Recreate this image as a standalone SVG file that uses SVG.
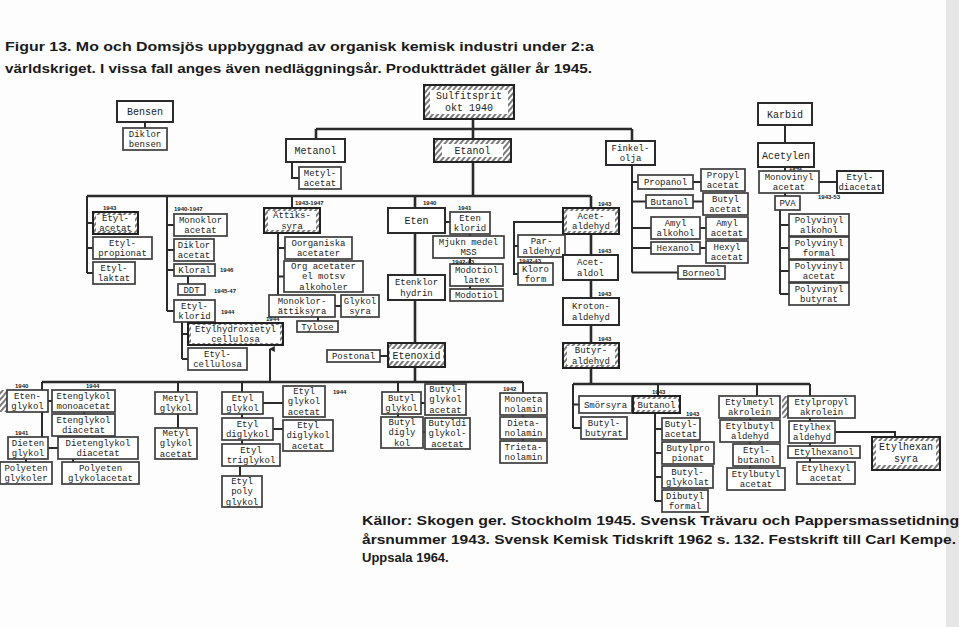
<svg xmlns="http://www.w3.org/2000/svg" width="959" height="627" viewBox="0 0 959 627">
<defs>
<pattern id="hatch" patternUnits="userSpaceOnUse" width="4" height="4" patternTransform="rotate(40)"><rect width="4" height="4" fill="#fff"/><line x1="1" y1="0" x2="1" y2="4" stroke="#333" stroke-width="1.3"/></pattern>
<marker id="arr" viewBox="0 0 10 10" refX="5" refY="2" markerWidth="6" markerHeight="6" orient="auto-start-reverse" markerUnits="userSpaceOnUse"><path d="M0,10 L5,0 L10,10 Z" fill="#2b2b2b"/></marker>
<style>
.b{fill:#fff;stroke:#2b2b2b;stroke-width:2}
.s{fill:#fff;stroke:#3c3c3c;stroke-width:1.7}
.h{fill:url(#hatch);stroke:#222;stroke-width:2}
.hi{fill:#fff;stroke:none}
.t{font-family:"Liberation Mono","DejaVu Sans Mono",monospace;font-size:9px;fill:#222;text-anchor:middle}
.tb{font-family:"Liberation Mono","DejaVu Sans Mono",monospace;font-size:10px;fill:#222;text-anchor:middle}
.yr{font-family:"Liberation Sans",Arial,sans-serif;font-size:6px;font-weight:bold;fill:#222}
.ti{font-family:"Liberation Sans",Arial,sans-serif;font-size:13px;font-weight:bold;fill:#1a1a1a}
.c{fill:none;stroke:#2b2b2b;stroke-width:2}
.ct{fill:none;stroke:#2b2b2b;stroke-width:2.6}
</style>
</defs>
<rect width="959" height="627" fill="#fdfdfd"/>
<rect x="946" y="0" width="13" height="627" fill="#e6e6e6"/>

<g id="title">
<text class="ti" x="5" y="51" textLength="589" lengthAdjust="spacingAndGlyphs">Figur 13. Mo och Domsjös uppbyggnad av organisk kemisk industri under 2:a</text>
<text class="ti" x="5" y="73" textLength="587" lengthAdjust="spacingAndGlyphs">världskriget. I vissa fall anges även nedläggningsår. Produktträdet gäller år 1945.</text>
</g>

<g id="connectors">
<path class="c" d="M145,122 V128"/>
<path class="ct" d="M473,119 V139 M316,129 H632 M316,129 V139 M632,129 V141"/>
<path class="c" d="M292,162 V178 H299"/>
<path class="ct" d="M473,162 V196 M87,196 H591"/>
<path class="c" d="M87,196 V273 M87,223 H93 M87,248 H93 M87,273 H93"/>
<path class="c" d="M167,196 V311 M167,225 H174 M167,250 H174 M167,270 H174 M167,311 H174"/>
<path class="c" d="M188,276 V284"/>
<path class="c" d="M182,322 V359 M182,334 H188 M182,359 H188"/>
<path class="c" d="M270,382 V349" marker-end="url(#arr)"/>
<path class="c" d="M292,196 V208 M278,233 V295 M278,248 H285 M278,276.5 H284"/>
<path class="c" d="M335,306 H341 M318,317 V321"/>
<path class="ct" d="M415,196 V208 M415,233 V275 M415,300 V343 M415,367 V382"/>
<path class="c" d="M445,222 H450 M470,234 V236 M470,258 V264 M470,286 V289"/>
<path class="c" d="M380,356 H388"/>
<path class="ct" d="M591,196 V208 M591,234 V255 M591,280 V298 M591,325 V343 M591,368 V384"/>
<path class="c" d="M563,222 H514 V274 H518 M514,246 H518"/>
<path class="ct" d="M42,382 H523"/>
<path class="c" d="M42,382 V390 M178,382 V392 M242,382 V392 M398,382 V392 M523,382 V393"/>
<path class="c" d="M48,401 H52 M84,412 V414 M42,412 V437 M48,448 H58 M26,459 V462 M73,459 V462"/>
<path class="c" d="M178,414 V428 M263,403 H283 M242,414 V418 M273,429 H283 M242,440 V444 M240,466 V476"/>
<path class="c" d="M421,403 H425 M398,414 V417 M423,432 H425 M523,415 V417 M523,439 V441"/>
<path class="ct" d="M573,384 H810"/>
<path class="c" d="M573,384 V428 M573,404.5 H579 M573,428 H581 M658,384 V396"/>
<path class="c" d="M655,413 V501 M655,429 H662 M655,453 H662 M655,477 H662 M655,501 H662"/>
<path class="c" d="M757,384 V396 M750,418 V420 M750,442 V444 M750,466 V468"/>
<path class="c" d="M810,384 V396 M810,418 V421 M810,443 V446 M810,458 V462 M835,432 H895 V437"/>
<path class="c" d="M785,125 V143 M785,167 V171 M819,182 H837 M785,193 V196"/>
<path class="c" d="M780,210 V294 M780,225 H789 M780,248 H789 M780,271 H789 M780,294 H789"/>
<path class="c" d="M632,165 V272.5 M632,182 H638 M632,201.5 H646 M632,228 H651 M632,248 H651 M632,272.5 H678"/>
<path class="c" d="M693,182 H701 M693,201.5 H703 M700,228 H706 M700,248 H706"/>
</g>

<g id="n-bensen"><rect class="b" x="117" y="101" width="56" height="21"/><text class="tb" x="145" y="115">Bensen</text></g>
<g id="n-diklorbensen"><rect class="s" x="123" y="128" width="44" height="22"/><text class="t" x="145" y="136.8">Diklor</text><text class="t" x="145" y="147">bensen</text></g>
<g id="n-sulfitsprit"><rect class="h" x="424" y="85" width="90" height="34" stroke-width="3"/><rect class="hi" x="430" y="90" width="78" height="24"/><text class="tb" x="469" y="99">Sulfitsprit</text><text class="tb" x="469" y="111">okt 1940</text></g>
<g id="n-metanol"><rect class="b" x="286" y="139" width="59" height="23"/><text class="tb" x="315.5" y="154">Metanol</text></g>
<g id="n-metylacetat"><rect class="s" x="299" y="167" width="42" height="22"/><text class="t" x="320" y="175.8">Metyl-</text><text class="t" x="320" y="186">acetat</text></g>
<g id="n-etanol"><rect class="h" x="434" y="139" width="77" height="23"/><rect class="hi" x="442" y="144" width="61" height="13"/><text class="tb" x="472.5" y="154">Etanol</text></g>
<g id="n-finkelolja"><rect class="b" x="606" y="141" width="49" height="24"/><text class="t" x="630.5" y="150.8">Finkel-</text><text class="t" x="630.5" y="161">olja</text></g>
<g id="n-karbid"><rect class="b" x="758" y="103" width="54" height="22"/><text class="tb" x="785" y="117.5">Karbid</text></g>
<g id="n-acetylen"><rect class="b" x="758" y="143" width="56" height="24"/><text class="tb" x="786" y="158.5">Acetylen</text></g>
<g id="n-monovinylacetat"><rect class="s" x="759" y="171" width="60" height="22"/><text class="t" x="789" y="179.8">Monovinyl</text><text class="t" x="789" y="190">acetat</text></g>
<g id="n-etyldiacetat"><rect class="b" x="837" y="171" width="46" height="22"/><text class="t" x="860" y="179.8">Etyl-</text><text class="t" x="860" y="190">diacetat</text></g>
<g id="n-pva"><rect class="s" x="775" y="196" width="25" height="14"/><text class="t" x="787.5" y="206.2">PVA</text></g>
<g id="n-pvalkohol"><rect class="s" x="789" y="214" width="60" height="22"/><text class="t" x="819" y="222.8">Polyvinyl</text><text class="t" x="819" y="233">alkohol</text></g>
<g id="n-pvformal"><rect class="s" x="789" y="237" width="60" height="22"/><text class="t" x="819" y="245.8">Polyvinyl</text><text class="t" x="819" y="256">formal</text></g>
<g id="n-pvacetat"><rect class="s" x="789" y="260" width="60" height="22"/><text class="t" x="819" y="268.8">Polyvinyl</text><text class="t" x="819" y="279">acetat</text></g>
<g id="n-pvbutyrat"><rect class="s" x="789" y="283" width="60" height="22"/><text class="t" x="819" y="291.8">Polyvinyl</text><text class="t" x="819" y="302">butyrat</text></g>
<g id="n-propanol"><rect class="s" x="638" y="175" width="55" height="14"/><text class="t" x="665.5" y="185.2">Propanol</text></g>
<g id="n-propylacetat"><rect class="s" x="701" y="169" width="44" height="22"/><text class="t" x="723" y="177.8">Propyl</text><text class="t" x="723" y="188">acetat</text></g>
<g id="n-butanol-f"><rect class="s" x="646" y="195" width="47" height="13"/><text class="t" x="669.5" y="204.7">Butanol</text></g>
<g id="n-butylacetat-f"><rect class="s" x="703" y="193" width="45" height="22"/><text class="t" x="725.5" y="201.8">Butyl</text><text class="t" x="725.5" y="212">acetat</text></g>
<g id="n-amylalkohol"><rect class="s" x="651" y="217" width="49" height="22"/><text class="t" x="675.5" y="225.8">Amyl</text><text class="t" x="675.5" y="236">alkohol</text></g>
<g id="n-amylacetat"><rect class="s" x="706" y="217" width="42" height="22"/><text class="t" x="727" y="225.8">Amyl</text><text class="t" x="727" y="236">acetat</text></g>
<g id="n-hexanol"><rect class="s" x="651" y="242" width="49" height="12"/><text class="t" x="675.5" y="251.2">Hexanol</text></g>
<g id="n-hexylacetat"><rect class="s" x="706" y="241" width="42" height="22"/><text class="t" x="727" y="249.8">Hexyl</text><text class="t" x="727" y="260">acetat</text></g>
<g id="n-borneol"><rect class="s" x="678" y="266" width="47" height="13"/><text class="t" x="701.5" y="275.7">Borneol</text></g>

<g id="n-etylacetat"><rect class="h" x="93" y="212" width="45" height="22"/><rect class="hi" x="96" y="215" width="39" height="16"/><text class="t" x="115.5" y="220.8">Etyl-</text><text class="t" x="115.5" y="231">acetat</text></g>
<g id="n-etylpropionat"><rect class="s" x="93" y="237" width="59" height="22"/><text class="t" x="122.5" y="245.8">Etyl-</text><text class="t" x="122.5" y="256">propionat</text></g>
<g id="n-etyllaktat"><rect class="s" x="93" y="262" width="42" height="22"/><text class="t" x="114" y="270.8">Etyl-</text><text class="t" x="114" y="281">laktat</text></g>
<g id="n-monokloracetat"><rect class="s" x="174" y="214" width="53" height="22"/><text class="t" x="200.5" y="222.8">Monoklor</text><text class="t" x="200.5" y="233">acetat</text></g>
<g id="n-dikloracetat"><rect class="s" x="174" y="239" width="40" height="22"/><text class="t" x="194" y="247.8">Diklor</text><text class="t" x="194" y="258">acetat</text></g>
<g id="n-kloral"><rect class="s" x="174" y="264" width="41" height="12"/><text class="t" x="194.5" y="273.2">Kloral</text></g>
<g id="n-ddt"><rect class="s" x="178" y="284" width="27" height="11"/><text class="t" x="191.5" y="292.7">DDT</text></g>
<g id="n-etylklorid"><rect class="s" x="174" y="300" width="41" height="22"/><text class="t" x="194.5" y="308.8">Etyl-</text><text class="t" x="194.5" y="319">klorid</text></g>
<g id="n-ehec"><rect class="h" x="188" y="323" width="95" height="22"/><rect class="hi" x="191" y="325" width="89" height="18"/><text class="t" x="235.5" y="331.8">Etylhydroxietyl</text><text class="t" x="235.5" y="342">cellulosa</text></g>
<g id="n-etylcellulosa"><rect class="s" x="188" y="348" width="59" height="22"/><text class="t" x="217.5" y="356.8">Etyl-</text><text class="t" x="217.5" y="367">cellulosa</text></g>

<g id="n-attiksyra"><rect class="h" x="264" y="208" width="56" height="25"/><rect class="hi" x="268" y="211" width="48" height="19"/><text class="t" x="292" y="218.3">Ättiks-</text><text class="t" x="292" y="228.5">syra</text></g>
<g id="n-oorganiska"><rect class="s" x="285" y="237" width="67" height="22"/><text class="t" x="318.5" y="245.8">Oorganiska</text><text class="t" x="318.5" y="256">acetater</text></g>
<g id="n-orgacetater"><rect class="s" x="284" y="261" width="79" height="31"/><text class="t" x="323.5" y="269.2">Org acetater</text><text class="t" x="323.5" y="279.4">el motsv</text><text class="t" x="323.5" y="289.6">alkoholer</text></g>
<g id="n-monoklorattiksyra"><rect class="s" x="269" y="295" width="66" height="22"/><text class="t" x="302" y="303.8">Monoklor-</text><text class="t" x="302" y="314">ättiksyra</text></g>
<g id="n-glykolsyra"><rect class="s" x="341" y="295" width="38" height="22"/><text class="t" x="360" y="303.8">Glykol</text><text class="t" x="360" y="314">syra</text></g>
<g id="n-tylose"><rect class="s" x="297" y="321" width="41" height="11"/><text class="t" x="317.5" y="329.7">Tylose</text></g>
<g id="n-eten"><rect class="b" x="388" y="208" width="57" height="25"/><text class="tb" x="416.5" y="224">Eten</text></g>
<g id="n-etenklorid"><rect class="s" x="450" y="212" width="40" height="22"/><text class="t" x="470" y="220.8">Eten</text><text class="t" x="470" y="231">klorid</text></g>
<g id="n-mjuknmedel"><rect class="s" x="433" y="236" width="71" height="22"/><text class="t" x="468.5" y="244.8">Mjukn medel</text><text class="t" x="468.5" y="255">MSS</text></g>
<g id="n-modotiollatex"><rect class="s" x="450" y="264" width="53" height="22"/><text class="t" x="476.5" y="272.8">Modotiol</text><text class="t" x="476.5" y="283">latex</text></g>
<g id="n-modotiol"><rect class="s" x="450" y="289" width="53" height="12"/><text class="t" x="476.5" y="298.2">Modotiol</text></g>
<g id="n-etenklorhydrin"><rect class="b" x="388" y="275" width="57" height="25"/><text class="t" x="416.5" y="285.3">Etenklor</text><text class="t" x="416.5" y="295.5">hydrin</text></g>
<g id="n-etenoxid"><rect class="h" x="388" y="343" width="57" height="24"/><rect class="hi" x="390" y="349" width="53" height="12"/><text class="tb" x="416.5" y="358.5">Etenoxid</text></g>
<g id="n-postonal"><rect class="s" x="327" y="350" width="53" height="12"/><text class="t" x="353.5" y="359.2">Postonal</text></g>

<g id="n-acetaldehyd"><rect class="h" x="563" y="208" width="56" height="26"/><rect class="hi" x="567" y="211" width="48" height="20"/><text class="t" x="591" y="218.8">Acet-</text><text class="t" x="591" y="229">aldehyd</text></g>
<g id="n-paraldehyd"><rect class="s" x="518" y="235" width="47" height="22"/><text class="t" x="541.5" y="243.8">Par-</text><text class="t" x="541.5" y="254">aldehyd</text></g>
<g id="n-kloroform"><rect class="s" x="518" y="263" width="35" height="22"/><text class="t" x="535.5" y="271.8">Kloro</text><text class="t" x="535.5" y="282">form</text></g>
<g id="n-acetaldol"><rect class="b" x="563" y="255" width="55" height="25"/><text class="t" x="590.5" y="265.3">Acet-</text><text class="t" x="590.5" y="275.5">aldol</text></g>
<g id="n-krotonaldehyd"><rect class="b" x="563" y="298" width="56" height="27"/><text class="t" x="591" y="309.3">Kroton-</text><text class="t" x="591" y="319.5">aldehyd</text></g>
<g id="n-butyraldehyd"><rect class="h" x="563" y="343" width="56" height="25"/><rect class="hi" x="567" y="346" width="48" height="19"/><text class="t" x="591" y="353.3">Butyr-</text><text class="t" x="591" y="363.5">aldehyd</text></g>

<g id="n-etenglykol"><rect x="0" y="390" width="7" height="22" fill="url(#hatch)"/><rect class="s" x="7" y="390" width="41" height="22"/><text class="t" x="27.5" y="398.8">Eten-</text><text class="t" x="27.5" y="409">glykol</text></g>
<g id="n-egmonoacetat"><rect class="s" x="52" y="390" width="63" height="22"/><text class="t" x="83.5" y="398.8">Etenglykol</text><text class="t" x="83.5" y="409">monoacetat</text></g>
<g id="n-egdiacetat"><rect class="s" x="52" y="414" width="63" height="22"/><text class="t" x="83.5" y="422.8">Etenglykol</text><text class="t" x="83.5" y="433">diacetat</text></g>
<g id="n-dietenglykol"><rect class="s" x="8" y="437" width="40" height="22"/><text class="t" x="28" y="445.8">Dieten</text><text class="t" x="28" y="456">glykol</text></g>
<g id="n-degdiacetat"><rect class="s" x="58" y="437" width="80" height="22"/><text class="t" x="98" y="445.8">Dietenglykol</text><text class="t" x="98" y="456">diacetat</text></g>
<g id="n-polyetenglykoler"><rect class="s" x="0" y="462" width="52" height="22"/><text class="t" x="26" y="470.8">Polyeten</text><text class="t" x="26" y="481">glykoler</text></g>
<g id="n-pegacetat"><rect class="s" x="62" y="462" width="77" height="22"/><text class="t" x="100.5" y="470.8">Polyeten</text><text class="t" x="100.5" y="481">glykolacetat</text></g>
<g id="n-metylglykol"><rect class="s" x="155" y="392" width="42" height="22"/><text class="t" x="176" y="400.8">Metyl</text><text class="t" x="176" y="411">glykol</text></g>
<g id="n-metylglykolacetat"><rect class="s" x="155" y="428" width="42" height="31"/><text class="t" x="176" y="436.2">Metyl</text><text class="t" x="176" y="446.4">glykol</text><text class="t" x="176" y="456.6">acetat</text></g>
<g id="n-etylglykol"><rect class="s" x="222" y="392" width="41" height="22"/><text class="t" x="242.5" y="400.8">Etyl</text><text class="t" x="242.5" y="411">glykol</text></g>
<g id="n-etylglykolacetat"><rect class="s" x="283" y="386" width="42" height="31"/><text class="t" x="304" y="394.2">Etyl</text><text class="t" x="304" y="404.4">glykol</text><text class="t" x="304" y="414.6">acetat</text></g>
<g id="n-etyldiglykol"><rect class="s" x="222" y="418" width="51" height="22"/><text class="t" x="247.5" y="426.8">Etyl</text><text class="t" x="247.5" y="437">diglykol</text></g>
<g id="n-etyldiglykolacetat"><rect class="s" x="283" y="420" width="50" height="31"/><text class="t" x="308" y="428.2">Etyl</text><text class="t" x="308" y="438.4">diglykol</text><text class="t" x="308" y="448.6">acetat</text></g>
<g id="n-etyltriglykol"><rect class="s" x="222" y="444" width="58" height="22"/><text class="t" x="251" y="452.8">Etyl</text><text class="t" x="251" y="463">triglykol</text></g>
<g id="n-etylpolyglykol"><rect class="s" x="222" y="476" width="40" height="31"/><text class="t" x="242" y="484.2">Etyl</text><text class="t" x="242" y="494.4">poly</text><text class="t" x="242" y="504.6">glykol</text></g>
<g id="n-butylglykol"><rect class="s" x="382" y="392" width="39" height="22"/><text class="t" x="401.5" y="400.8">Butyl</text><text class="t" x="401.5" y="411">glykol</text></g>
<g id="n-butylglykolacetat"><rect class="s" x="425" y="384" width="41" height="31"/><text class="t" x="445.5" y="392.2">Butyl-</text><text class="t" x="445.5" y="402.4">glykol</text><text class="t" x="445.5" y="412.6">acetat</text></g>
<g id="n-butyldiglykol"><rect class="s" x="381" y="417" width="42" height="31"/><text class="t" x="402" y="425.2">Butyl</text><text class="t" x="402" y="435.4">digly</text><text class="t" x="402" y="445.6">kol</text></g>
<g id="n-butyldiglykolacetat"><rect class="s" x="425" y="418" width="45" height="31"/><text class="t" x="447.5" y="426.2">Butyldi</text><text class="t" x="447.5" y="436.4">glykol-</text><text class="t" x="447.5" y="446.6">acetat</text></g>
<g id="n-monoetanolamin"><rect class="s" x="500" y="393" width="47" height="22"/><text class="t" x="523.5" y="401.8">Monoeta</text><text class="t" x="523.5" y="412">nolamin</text></g>
<g id="n-dietanolamin"><rect class="s" x="500" y="417" width="47" height="22"/><text class="t" x="523.5" y="425.8">Dieta-</text><text class="t" x="523.5" y="436">nolamin</text></g>
<g id="n-trietanolamin"><rect class="s" x="500" y="441" width="47" height="22"/><text class="t" x="523.5" y="449.8">Trieta-</text><text class="t" x="523.5" y="460">nolamin</text></g>

<g id="n-smorsyra"><rect class="s" x="579" y="396" width="53" height="17"/><text class="t" x="605.5" y="407.7">Smörsyra</text></g>
<g id="n-butanol"><rect class="h" x="633" y="396" width="47" height="17"/><rect class="hi" x="635" y="399" width="43" height="11"/><text class="t" x="656.5" y="407.7">Butanol</text></g>
<g id="n-butylbutyrat"><rect class="s" x="581" y="417" width="46" height="22"/><text class="t" x="604" y="425.8">Butyl-</text><text class="t" x="604" y="436">butyrat</text></g>
<g id="n-butylacetat"><rect class="s" x="662" y="418" width="38" height="22"/><text class="t" x="681" y="426.8">Butyl-</text><text class="t" x="681" y="437">acetat</text></g>
<g id="n-butylpropionat"><rect class="s" x="662" y="442" width="52" height="22"/><text class="t" x="688" y="450.8">Butylpro</text><text class="t" x="688" y="461">pionat</text></g>
<g id="n-butylglykolat"><rect class="s" x="662" y="466" width="51" height="22"/><text class="t" x="687.5" y="474.8">Butyl-</text><text class="t" x="687.5" y="485">glykolat</text></g>
<g id="n-dibutylformal"><rect class="s" x="662" y="490" width="46" height="22"/><text class="t" x="685" y="498.8">Dibutyl</text><text class="t" x="685" y="509">formal</text></g>
<g id="n-etylmetylakrolein"><rect class="s" x="719" y="396" width="61" height="22"/><text class="t" x="749.5" y="404.8">Etylmetyl</text><text class="t" x="749.5" y="415">akrolein</text></g>
<g id="n-etylbutylaldehyd"><rect class="s" x="720" y="420" width="60" height="22"/><text class="t" x="750" y="428.8">Etylbutyl</text><text class="t" x="750" y="439">aldehyd</text></g>
<g id="n-etylbutanol"><rect class="s" x="733" y="444" width="47" height="22"/><text class="t" x="756.5" y="452.8">Etyl-</text><text class="t" x="756.5" y="463">butanol</text></g>
<g id="n-etylbutylacetat"><rect class="s" x="727" y="468" width="58" height="22"/><text class="t" x="756" y="476.8">Etylbutyl</text><text class="t" x="756" y="487">acetat</text></g>
<g id="n-etylpropylakrolein"><rect x="782" y="396" width="6" height="22" fill="url(#hatch)"/><rect class="s" x="788" y="396" width="67" height="22"/><text class="t" x="821.5" y="404.8">Etylpropyl</text><text class="t" x="821.5" y="415">akrolein</text></g>
<g id="n-etylhexaldehyd"><rect class="s" x="789" y="421" width="46" height="22"/><text class="t" x="812" y="429.8">Etylhex</text><text class="t" x="812" y="440">aldehyd</text></g>
<g id="n-etylhexanol"><rect class="s" x="788" y="446" width="72" height="12"/><text class="t" x="824" y="455.2">Etylhexanol</text></g>
<g id="n-etylhexylacetat"><rect class="s" x="797" y="462" width="58" height="22"/><text class="t" x="826" y="470.8">Etylhexyl</text><text class="t" x="826" y="481">acetat</text></g>
<g id="n-etylhexansyra"><rect class="h" x="872" y="437" width="68" height="33"/><rect class="hi" x="876" y="441" width="60" height="24"/><text class="tb" x="906" y="450">Etylhexan</text><text class="tb" x="906" y="461.5">syra</text></g>

<g id="years">
<text class="yr" x="789" y="170">1942</text>
<text class="yr" x="818" y="199">1943-53</text>
<text class="yr" x="103" y="210">1943</text>
<text class="yr" x="174" y="211">1940-1947</text>
<text class="yr" x="220" y="272">1946</text>
<text class="yr" x="214" y="293">1945-47</text>
<text class="yr" x="221" y="314">1944</text>
<text class="yr" x="266" y="321">1944</text>
<text class="yr" x="295" y="205">1943-1947</text>
<text class="yr" x="423" y="205">1940</text>
<text class="yr" x="458" y="210">1941</text>
<text class="yr" x="452" y="263.5">1942-43</text>
<text class="yr" x="598" y="206">1943</text>
<text class="yr" x="598" y="253">1943</text>
<text class="yr" x="598" y="296">1943</text>
<text class="yr" x="598" y="341">1943</text>
<text class="yr" x="519" y="262.5">1942-43</text>
<text class="yr" x="15" y="388">1940</text>
<text class="yr" x="86" y="388">1944</text>
<text class="yr" x="15" y="435">1941</text>
<text class="yr" x="333" y="394">1944</text>
<text class="yr" x="503" y="391">1942</text>
<text class="yr" x="652" y="394">1943</text>
<text class="yr" x="686" y="416">1943</text>
</g>

<g id="sources">
<text class="ti" x="362" y="525" textLength="606" lengthAdjust="spacingAndGlyphs">Källor: Skogen ger. Stockholm 1945. Svensk Trävaru och Pappersmassetidnings</text>
<text class="ti" x="362" y="544" textLength="594" lengthAdjust="spacingAndGlyphs">årsnummer 1943. Svensk Kemisk Tidskrift 1962 s. 132. Festskrift till Carl Kempe.</text>
<text class="ti" x="362" y="562">Uppsala 1964.</text>
</g>
</svg>
